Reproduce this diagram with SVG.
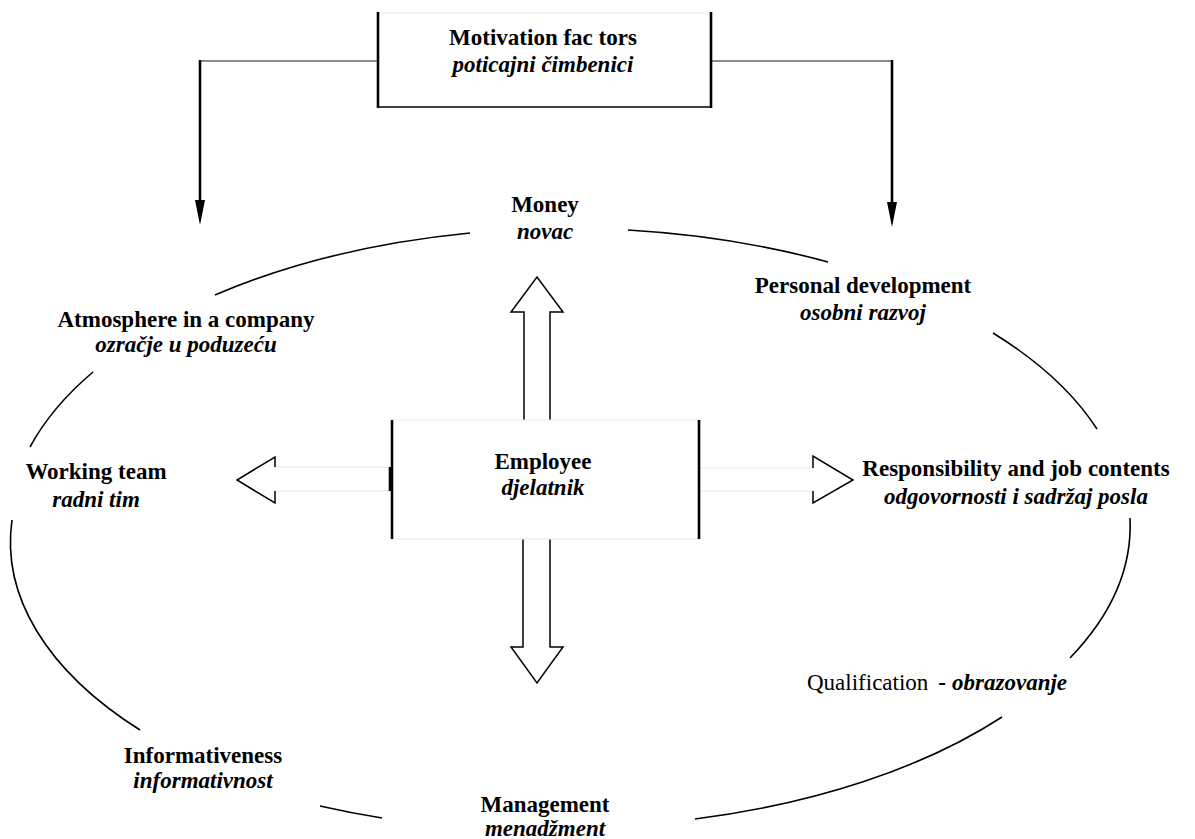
<svg xmlns="http://www.w3.org/2000/svg" width="1195" height="839" viewBox="0 0 1195 839">
<style>
text{font-family:"Liberation Serif","Times New Roman",serif;font-size:23px;fill:#000;text-anchor:middle}
.b{font-weight:bold}
.bi{font-weight:bold;font-style:italic}
.r{font-weight:normal}
.arc{fill:none;stroke:#000;stroke-width:1.6}
.thick{stroke:#000;stroke-width:2.6;fill:none}
.thin{stroke:#666;stroke-width:1.3;fill:none}
.faint{stroke:#e8e8e8;stroke-width:1;fill:none}
.blk{stroke:#000;stroke-width:1.5;fill:none}
</style>
<defs>
<marker id="ah" markerWidth="10" markerHeight="25" refX="5" refY="25" orient="auto-start-reverse" markerUnits="userSpaceOnUse" viewBox="0 0 10 25">
<path d="M0,0 L10,0 L5,25 Z" fill="#000"/>
</marker>
</defs>
<rect width="1195" height="839" fill="#fff"/>

<g id="ellipse">
<path class="arc" d="M215,295 A565,295 0 0 1 470,233"/>
<path class="arc" d="M628,230 A565,295 0 0 1 828,262"/>
<path class="arc" d="M993,333 A565,295 0 0 1 1097,429"/>
<path class="arc" d="M1130,518 A565,295 0 0 1 1070,658"/>
<path class="arc" d="M1002,717 A565,295 0 0 1 695,819"/>
<path class="arc" d="M382,818 A565,295 0 0 1 320,806"/>
<path class="arc" d="M140,730 A565,295 0 0 1 12,520"/>
<path class="arc" d="M30,447 A565,295 0 0 1 93,372"/>
</g>

<g id="connectors">
<line class="thin" x1="200" y1="61" x2="378" y2="61"/>
<line class="thick" x1="200" y1="60" x2="200" y2="202"/>
<path d="M195,200 L205,200 L200,225 Z" fill="#000"/>
<line class="thin" x1="711" y1="61" x2="892" y2="61"/>
<line class="thick" x1="892" y1="60" x2="892" y2="204"/>
<path d="M887,202 L897,202 L892,227 Z" fill="#000"/>
</g>

<g id="arrow-up">
<path d="M524,420 L524,312 L511,312 L537,277 L563,312 L550,312 L550,420" fill="#fff" class="blk"/>
</g>
<g id="arrow-down">
<path d="M523,539 L523,647 L511,647 L537,683 L563,647 L550,647 L550,539" fill="#fff" class="blk"/>
</g>
<g id="arrow-left">
<line class="faint" x1="275" y1="467" x2="392" y2="467"/>
<line class="faint" x1="275" y1="491" x2="392" y2="491"/>
<path d="M275,467 L275,457 L237,480 L275,503 L275,491" class="blk" fill="#fff"/>
<line class="thick" x1="390" y1="467" x2="390" y2="491"/>
</g>
<g id="arrow-right">
<line class="faint" x1="699" y1="468" x2="813" y2="468"/>
<line class="faint" x1="699" y1="491" x2="813" y2="491"/>
<path d="M813,468 L813,456 L853,480 L813,503 L813,491" class="blk" fill="#fff"/>
</g>

<g id="motivation">
<line class="faint" x1="378" y1="13" x2="711" y2="13"/>
<line class="thick" x1="378" y1="12" x2="378" y2="108"/>
<line class="thick" x1="711" y1="12" x2="711" y2="108"/>
<line class="blk" x1="378" y1="107" x2="711" y2="107"/>
<text class="b" x="543" y="45">Motivation fac tors</text>
<text class="bi" x="543" y="72">poticajni čimbenici</text>
</g>

<g id="employee">
<line class="faint" x1="392" y1="420" x2="699" y2="420"/>
<line class="faint" x1="392" y1="539" x2="699" y2="539"/>
<line class="thick" x1="392" y1="420" x2="392" y2="539"/>
<line class="thick" x1="699" y1="420" x2="699" y2="539"/>
<text class="b" x="543" y="469">Employee</text>
<text class="bi" x="543" y="495">djelatnik</text>
</g>

<g id="money">
<text class="b" x="545" y="212">Money</text>
<text class="bi" x="545" y="239">novac</text>
</g>
<g id="atmosphere">
<text class="b" x="186" y="327">Atmosphere in a company</text>
<text class="bi" x="186" y="352">ozračje u poduzeću</text>
</g>
<g id="working-team">
<text class="b" x="96" y="479">Working team</text>
<text class="bi" x="96" y="507">radni tim</text>
</g>
<g id="personal-development">
<text class="b" x="863" y="293">Personal development</text>
<text class="bi" x="863" y="320">osobni razvoj</text>
</g>
<g id="responsibility">
<text class="b" x="1016" y="476">Responsibility and job contents</text>
<text class="bi" x="1016" y="504">odgovornosti i sadržaj posla</text>
</g>
<g id="qualification">
<text style="text-anchor:start" x="807" y="690"><tspan class="r">Qualification</tspan><tspan class="b" dx="10">-</tspan><tspan class="bi" dx="6">obrazovanje</tspan></text>
</g>
<g id="informativeness">
<text class="b" x="203" y="763">Informativeness</text>
<text class="bi" x="203" y="788">informativnost</text>
</g>
<g id="management">
<text class="b" x="545" y="812">Management</text>
<text class="bi" x="545" y="836">menadžment</text>
</g>
</svg>
